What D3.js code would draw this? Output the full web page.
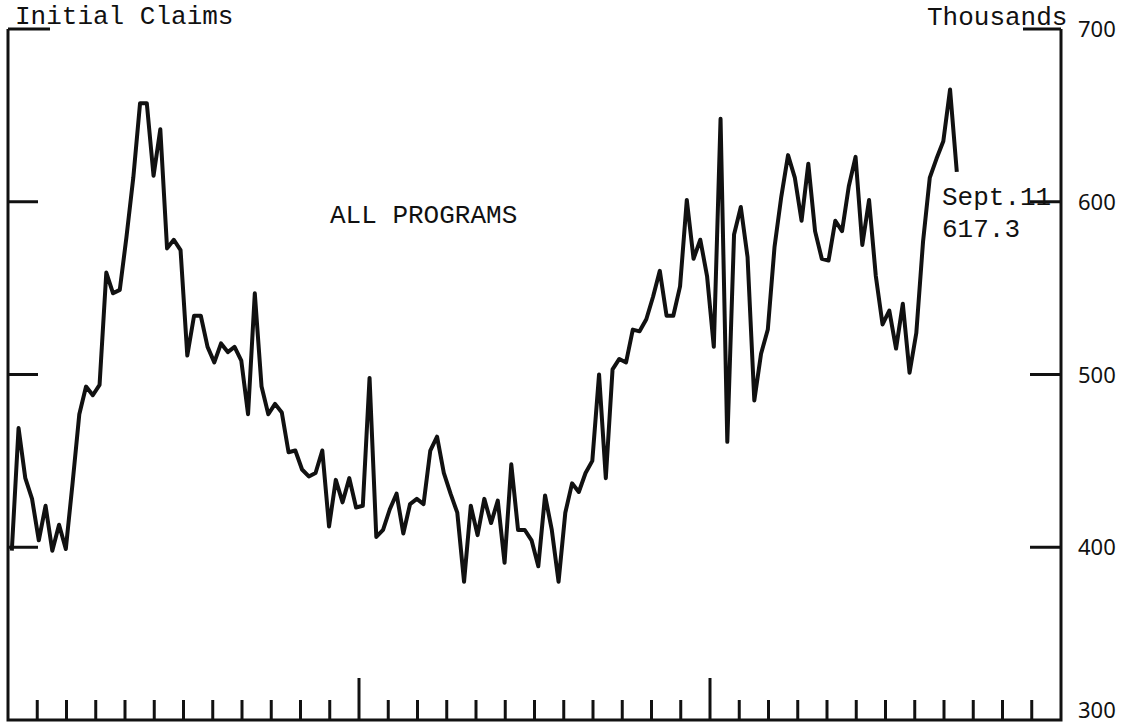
<!DOCTYPE html>
<meta charset="utf-8">
<html>
<script src="https://d3js.org/d3.v7.min.js"></script>
<style>
  body { margin: 0; background: #fff; }
  text { fill: #111; }
</style>
<div id="chart"></div>
<script>

// weekly initial claims, all programs (thousands), first week of Jan, year 1 -> Sept. 11, year 3
var claims = [398,469,440,428,404,424,398,413,399,437,
  477,493,488,494,559,547,549,580,614,657,
  657,615,642,573,578,572,511,534,534,516,
  507,518,513,516,508,477,547,493,477,483,
  478,455,456,445,441,443,456,412,439,426,
  440,423,424,498,406,410,422,431,408,425,
  428,425,456,464,443,431,420,380,424,407,
  428,414,427,391,448,410,410,404,389,430,
  410,380,420,437,432,443,450,500,440,503,
  509,507,526,525,532,545,560,534,534,551,
  601,567,578,557,516,648,461,581,597,568,
  485,512,526,574,603,627,614,589,622,583,
  567,566,589,583,609,626,575,601,557,529,
  537,515,541,501,524,577,614,625,635,665,
  617.3];
var yTicks = [300, 400, 500, 600, 700];
var monthTicks = d3.range(1, 36);
var majorMonths = [12, 24];

var width = 1140, height = 725;
var weekInMonths = 12 / 52, firstWeek = 0.13;

var x = d3.scaleLinear().domain([0, 36]).range([8, 1061]);
var y = d3.scaleLinear().domain([300, 700]).range([720, 29]);

var svg = d3.select("#chart")
  .append("svg")
    .attr("width", width)
    .attr("height", height);

// frame: left, right, bottom
svg.append("path")
  .attr("d", "M" + x(0) + "," + y(700) + "V" + y(300) + "H" + x(36) + "V" + y(700))
  .attr("fill", "none")
  .attr("stroke", "#111")
  .attr("stroke-width", 3);

// y ticks on both sides
svg.selectAll("line.ltick")
  .data(yTicks.slice(1))
  .enter().append("line")
    .attr("class", "ltick")
    .attr("x1", x(0))
    .attr("x2", function(d) { return x(0) + (d == 700 ? 42 : 30); })
    .attr("y1", function(d) { return y(d); })
    .attr("y2", function(d) { return y(d); })
    .attr("stroke", "#111")
    .attr("stroke-width", 3);

svg.selectAll("line.rtick")
  .data(yTicks.slice(1))
  .enter().append("line")
    .attr("class", "rtick")
    .attr("x1", x(36))
    .attr("x2", function(d) { return x(36) - (d == 700 ? 38 : 31); })
    .attr("y1", function(d) { return y(d); })
    .attr("y2", function(d) { return y(d); })
    .attr("stroke", "#111")
    .attr("stroke-width", 3);

svg.selectAll("text.ylab")
  .data(yTicks)
  .enter().append("text")
    .attr("class", "ylab")
    .attr("x", x(36) + 17)
    .attr("y", function(d) { return Math.min(y(d) + 8, height - 7); })
    .style("font-family", "Noto Sans")
    .style("font-size", "22px")
    .text(function(d) { return d; });

// month ticks along the bottom
svg.selectAll("line.mtick")
  .data(monthTicks)
  .enter().append("line")
    .attr("class", "mtick")
    .attr("x1", function(d) { return x(d); })
    .attr("x2", function(d) { return x(d); })
    .attr("y1", y(300))
    .attr("y2", function(d) { return majorMonths.indexOf(d) >= 0 ? y(300) - 42 : y(300) - 20; })
    .attr("stroke", "#111")
    .attr("stroke-width", 3);

// the series
var line = d3.line()
  .x(function(d, i) { return x(firstWeek + i * weekInMonths); })
  .y(function(d) { return y(d); });

svg.append("path")
  .datum(claims)
  .attr("d", line)
  .attr("fill", "none")
  .attr("stroke", "#111")
  .attr("stroke-width", 4)
  .attr("stroke-linejoin", "round");

// labels
var mono = "Liberation Mono";
svg.append("text")
  .attr("x", 15).attr("y", 24)
  .style("font-family", mono).style("font-size", "26px")
  .text("Initial Claims");

svg.append("text")
  .attr("x", 927).attr("y", 25)
  .style("font-family", mono).style("font-size", "26px")
  .text("Thousands");

svg.append("text")
  .attr("x", 330).attr("y", 223)
  .style("font-family", mono).style("font-size", "26px")
  .text("ALL PROGRAMS");

svg.append("text")
  .attr("x", 942).attr("y", 205)
  .style("font-family", mono).style("font-size", "26px")
  .text("Sept.11");

svg.append("text")
  .attr("x", 942).attr("y", 237)
  .style("font-family", mono).style("font-size", "26px")
  .text(claims[claims.length - 1].toFixed(1));
</script>
</html>
